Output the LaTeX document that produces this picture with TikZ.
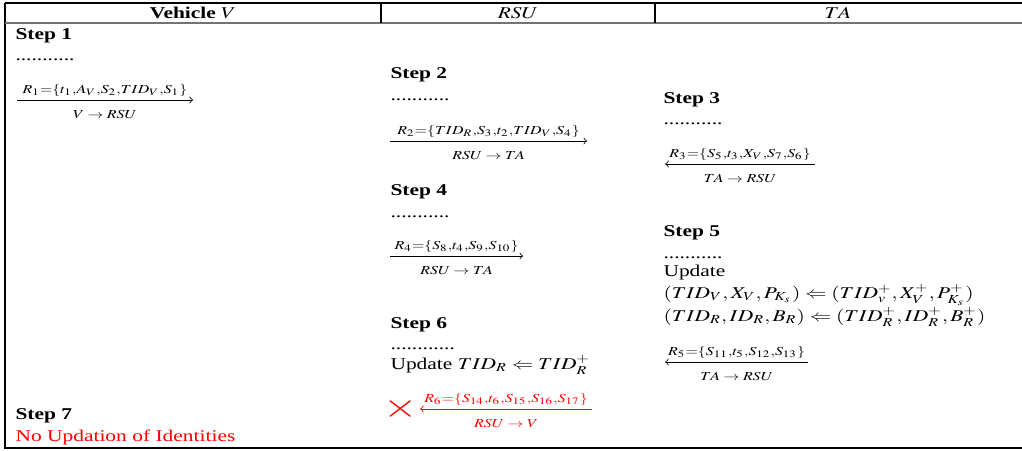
\documentclass[tikz,border=0pt]{standalone}
\usepackage{amsmath}
\usepackage{mathptmx}
\usepackage[no-math]{fontspec}
\setmainfont{Liberation Serif}
\usepackage{xcolor}
\usetikzlibrary{arrows,positioning}

\begin{document}
\begin{tikzpicture}[xscale=1.3, x=0.3846pt, y=-0.5pt,
		every node/.append style={transform shape, inner sep=0pt, font=\fontsize{8.25}{9.9}\selectfont},
		txt/.style={anchor=west},
		stephead/.style={anchor=west, font=\fontsize{8.25}{9.9}\selectfont\bfseries},
		dotsline/.style={anchor=base west},
		msgarrow/.style={-to, line width=0.4pt},
		msgtop/.style={above=1.6pt},
		msgbot/.style={below=4.8pt}]
		\useasboundingbox (0,0) rectangle (1022,450);
		\draw[line width=0.6pt] (5,3) -- (1022,3);
		\draw[line width=0.6pt] (5,3) -- (5,448) -- (1022,448);
		\draw[line width=0.9pt, black!55] (5,23) -- (1022,23);
		\draw[line width=0.6pt] (381,3) -- (381,23);
		\draw[line width=0.6pt] (655,3) -- (655,23);
		\node (hveh) at (193,13) {\textbf{Vehicle} $V$};
		\node (hrsu) at (518,13) {$RSU$};
		\node (hta) at (838,13) {$TA$};
		
		\node[stephead] (step1) at (15,36) {Step 1};
		\node[dotsline] (dots1) at (15,60) {...........};
		\coordinate (r1a) at (17,100);
		\coordinate (r1b) at (193,100);
		\draw[msgarrow] (r1a) -- node[msgtop] {$\scriptstyle R_1=\{t_1,A_V,S_2,TID_V,S_1\}$} node[msgbot] {$\scriptstyle V\;\rightarrow\;RSU$} (r1b);
		
		\node[stephead] (step2) at (390,75) {Step 2};
		\node[dotsline] (dots2) at (390,100) {...........};
		\coordinate (r2a) at (390,141);
		\coordinate (r2b) at (587,141);
		\draw[msgarrow] (r2a) -- node[msgtop] {$\scriptstyle R_2=\{TID_R,S_3,t_2,TID_V,S_4\}$} node[msgbot] {$\scriptstyle RSU\;\rightarrow\;TA$} (r2b);
		
		\node[stephead] (step3) at (663,100) {Step 3};
		\node[dotsline] (dots3) at (663,124) {...........};
		\coordinate (r3a) at (815,164);
		\coordinate (r3b) at (665,164);
		\draw[msgarrow] (r3a) -- node[msgtop] {$\scriptstyle R_3=\{S_5,t_3,X_V,S_7,S_6\}$} node[msgbot] {$\scriptstyle TA\;\rightarrow\;RSU$} (r3b);
		
		\node[stephead] (step4) at (390,192) {Step 4};
		\node[dotsline] (dots4) at (390,217) {...........};
		\coordinate (r4a) at (390,256);
		\coordinate (r4b) at (523,256);
		\draw[msgarrow] (r4a) -- node[msgtop] {$\scriptstyle R_4=\{S_8,t_4,S_9,S_{10}\}$} node[msgbot] {$\scriptstyle RSU\;\rightarrow\;TA$} (r4b);
		
		\node[stephead] (step5) at (663,233) {Step 5};
		\node[dotsline] (dots5) at (663,258) {...........};
		\node[txt] (upd5) at (663,273) {Update};
		\node[txt] (upd5a) at (663,295) {$(TID_V,X_V,P_{K_s})\Leftarrow(TID_v^+,X_V^+,P_{K_s}^+)$};
		\node[txt] (upd5b) at (663,317) {$(TID_R,ID_R,B_R)\Leftarrow(TID_R^+,ID_R^+,B_R^+)$};
		\coordinate (r5a) at (808,362);
		\coordinate (r5b) at (665,362);
		\draw[msgarrow] (r5a) -- node[msgtop] {$\scriptstyle R_5=\{S_{11},t_5,S_{12},S_{13}\}$} node[msgbot] {$\scriptstyle TA\;\rightarrow\;RSU$} (r5b);
		
		\node[stephead] (step6) at (390,325) {Step 6};
		\node[dotsline] (dots6) at (390,349) {............};
		\node[txt] (upd6) at (390,365) {Update $TID_R\Leftarrow TID_R^+$};
		\node[red, font=\fontsize{17}{17}\selectfont] (fail) at (401,409) {$\times$};
		\coordinate (r6a) at (592,409);
		\coordinate (r6b) at (420,409);
		\draw[msgarrow, red] (r6a) -- node[msgtop] {$\scriptstyle R_6=\{S_{14},t_6,S_{15},S_{16},S_{17}\}$} node[msgbot] {$\scriptstyle RSU\;\rightarrow\;V$} (r6b);
		
		\node[stephead] (step7) at (15,416) {Step 7};
		\node[txt, red] (noupd) at (15,437) {No Updation of Identities};
\end{tikzpicture}
\end{document}
